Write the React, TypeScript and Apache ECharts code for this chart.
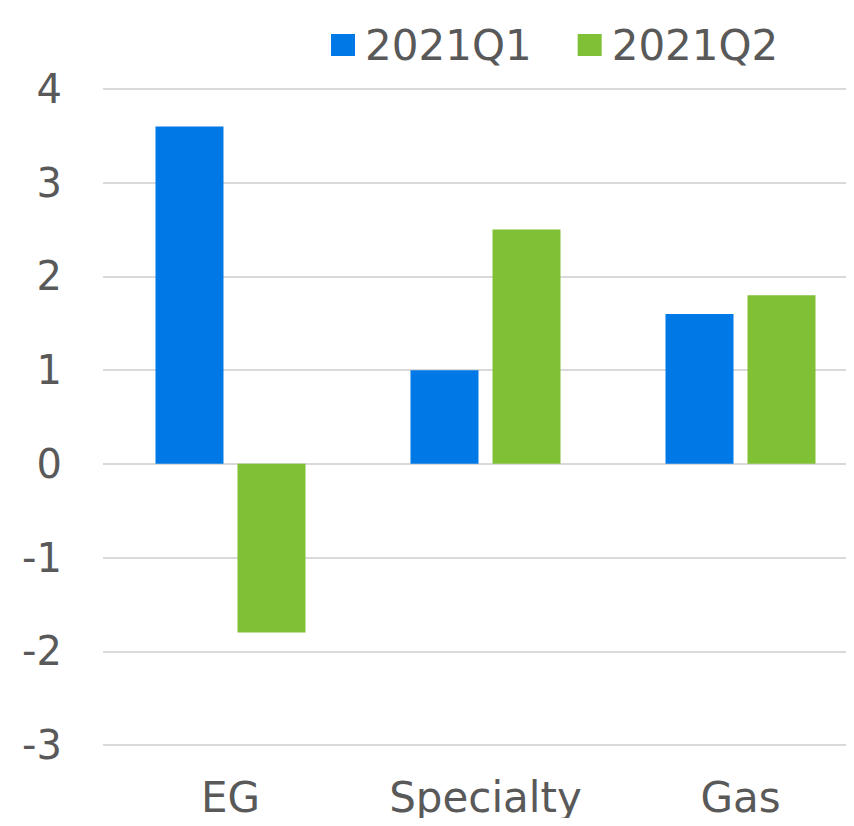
import React, { useEffect, useRef } from "react";
import * as echarts from "echarts";

const categories = ["EG", "Specialty", "Gas"];
const seriesNames = ["2021Q1", "2021Q2"];
const q1Values = [3.6, 1.0, 1.6];
const q2Values = [-1.8, 2.5, 1.8];
const colors = ["#0078E6", "#80C034"];

export default function App() {
  const ref = useRef<HTMLDivElement>(null);
  useEffect(() => {
    if (!ref.current) return;
    const chart = echarts.init(ref.current, null, { renderer: "svg" });
    const font = "DejaVu Sans";
    chart.setOption({
      animation: false,
      textStyle: { fontFamily: font },
      legend: {
        left: 331,
        top: 24,
        padding: 0,
        itemWidth: 24,
        itemHeight: 22,
        itemGap: 46,
        icon: "rect",
        textStyle: { fontFamily: font, fontSize: 42, color: "#595959", padding: [0, 0, 0, 5] },
        data: seriesNames,
      },
      grid: { left: 103, right: 2, top: 89, bottom: 81, containLabel: false },
      xAxis: {
        type: "category",
        data: categories,
        axisLine: { show: false },
        axisTick: { show: false },
        axisLabel: { fontFamily: font, fontSize: 42, color: "#595959", margin: 31 },
      },
      yAxis: {
        type: "value",
        min: -3,
        max: 4,
        interval: 1,
        axisLine: { show: false },
        axisTick: { show: false },
        axisLabel: { fontFamily: font, fontSize: 40, color: "#595959", margin: 41 },
        splitLine: { lineStyle: { color: "#D9D9D9", width: 2 } },
      },
      series: [
        {
          name: seriesNames[0],
          type: "bar",
          data: q1Values,
          itemStyle: { color: colors[0] },
          barWidth: 68,
          barGap: "20.6%",
        },
        {
          name: seriesNames[1],
          type: "bar",
          data: q2Values,
          itemStyle: { color: colors[1] },
          barWidth: 68,
          barGap: "20.6%",
        },
      ],
    });
    return () => chart.dispose();
  }, []);
  return (
    <div style={{ width: 854, height: 826, margin: -8, overflow: "hidden" }}>
      <div ref={ref} style={{ width: 870, height: 826 }} />
    </div>
  );
}
